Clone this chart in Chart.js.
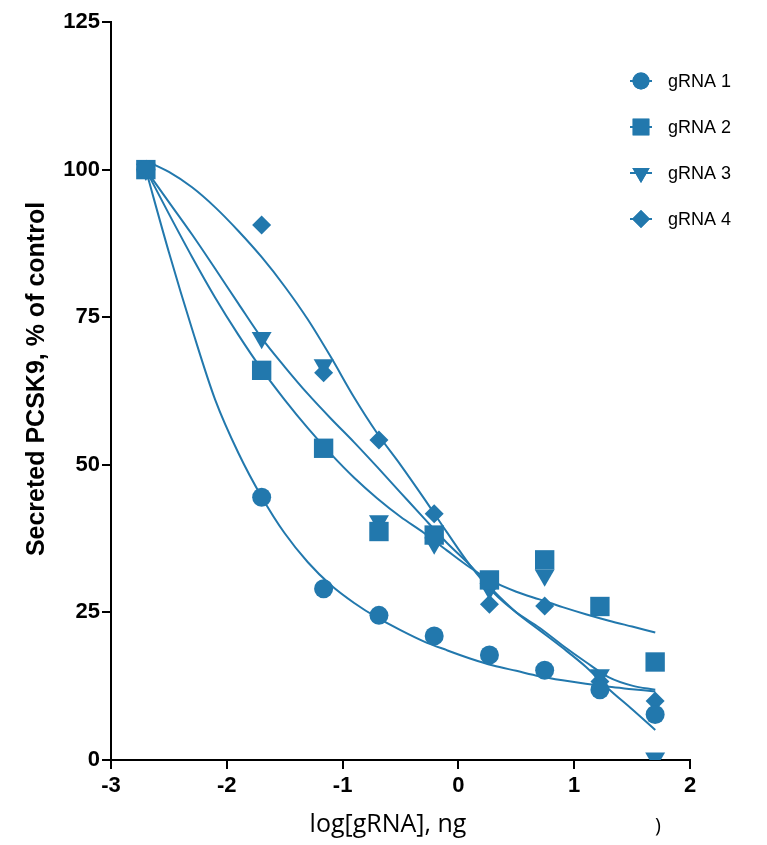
<!DOCTYPE html>
<html>
<head>
<meta charset="utf-8">
<script src="https://cdn.jsdelivr.net/npm/chart.js@4.4.1/dist/chart.umd.min.js"></script>
<style>
  html, body { margin:0; padding:0; background:#fff; }
  #wrap { width:767px; height:845px; }
</style>
</head>
<body>
<div id="wrap"><canvas id="grafico" width="767" height="845"></canvas></div>
<script>
// dose points: log10 of the gRNA amount (ng)
const logDosis = [-2.699, -1.699, -1.164, -0.686, -0.209, 0.268, 0.745, 1.222, 1.699];
// measured values, % of control
const gRNA1 = [100, 44.5, 29.0, 24.5, 21.0, 17.8, 15.2, 11.9, 7.7];
const gRNA2 = [100, 66.0, 52.8, 38.7, 38.1, 30.5, 33.9, 26.0, 16.6];
const gRNA3 = [100, 71.5, 66.9, 40.5, 36.7, 29.0, 31.3, 14.4, 0.3];
const gRNA4 = [100, 90.6, 65.6, 54.2, 41.7, 26.4, 26.1, 13.3, 10.0];

// fitted curves
const xCurva = [-2.7,-2.5,-2.3,-2.1,-1.9,-1.7,-1.5,-1.3,-1.1,-0.9,-0.7,-0.5,-0.3,-0.1,0.1,0.3,0.5,0.7,0.9,1.1,1.3,1.5,1.7];
const fit1 = [100,86,73,61,52,44.6,38.4,33.5,29.6,26.6,24.1,22.0,20.1,18.6,17.2,16.0,15.1,14.2,13.5,12.9,12.4,12.0,11.6];
const fit2 = [100,92.5,85.2,78.3,72.0,66.2,61.0,56.2,51.8,47.8,44.3,41.2,38.5,35.5,32.6,30.2,28.5,27.2,25.9,24.7,23.6,22.6,21.6];
const fit3 = [100,94.5,89.0,83.2,77.3,71.5,66.6,62.0,57.8,53.8,49.6,45.3,41.0,36.8,33.0,28.7,25.0,22.0,19.0,15.8,12.0,8.6,5.1];
const fit4 = [101.5,99.6,97.0,93.6,89.6,85.2,80.2,74.6,68.2,61.4,55.3,50.0,44.4,38.6,33.0,28.4,25.0,22.4,19.4,16.6,14.0,12.6,11.9];

const etiquetas = ['gRNA 1', 'gRNA 2', 'gRNA 3', 'gRNA 4'];
const xTicks = [-3, -2, -1, 0, 1, 2];
const yTicks = [0, 25, 50, 75, 100, 125];

const azul = '#2278AD';
const fuenteEje = "'Liberation Sans', Arial, sans-serif";

function puntos(xs, ys){ return xs.map((x,i)=>({x:x, y:ys[i]})); }

const marcas = [
  {pointStyle:'circle',   pointRadius:9.5, rotation:0},
  {pointStyle:'rect',     pointRadius:13.7, rotation:0},
  {pointStyle:'triangle', pointRadius:11.5, rotation:180},
  {pointStyle:'rectRot',  pointRadius:9.5, rotation:0}
];
const marcasLeyenda = [
  {pointStyle:'circle',   radius:8.5, rotation:0},
  {pointStyle:'rect',     radius:11.8, rotation:0},
  {pointStyle:'triangle', radius:10, rotation:180},
  {pointStyle:'rectRot',  radius:9, rotation:0}
];

const series = [gRNA1, gRNA2, gRNA3, gRNA4];
const curvas = [fit1, fit2, fit3, fit4];
let datasets = [];
series.forEach(function(s, i){
  datasets.push({
    label: etiquetas[i],
    data: puntos(logDosis, s),
    showLine: false,
    pointStyle: marcas[i].pointStyle,
    pointRadius: marcas[i].pointRadius,
    pointRotation: marcas[i].rotation,
    pointBackgroundColor: azul,
    pointBorderColor: azul,
    pointBorderWidth: 0,
    order: 1
  });
});
curvas.forEach(function(c, i){
  datasets.push({
    label: 'fit ' + etiquetas[i],
    data: puntos(xCurva, c),
    showLine: true,
    borderColor: azul,
    borderWidth: 2,
    pointRadius: 0,
    tension: 0.4,
    cubicInterpolationMode: 'monotone',
    order: 2
  });
});

//=========================titulos y leyenda============================
const pluginTextos = {
  id: 'textos',
  afterDraw(chart){
    const ctx = chart.ctx;
    ctx.save();
    // y title
    ctx.fillStyle = '#000';
    ctx.font = "bold 25px " + fuenteEje;
    ctx.textAlign = 'center';
    ctx.textBaseline = 'middle';
    ctx.translate(37, 379);
    ctx.rotate(-Math.PI/2);
    ctx.fillText('Secreted PCSK9, % of control', 0, 0);
    ctx.restore();

    ctx.save();
    ctx.fillStyle = '#000';
    ctx.font = "25px 'Open Sans', sans-serif";
    ctx.textAlign = 'center';
    ctx.textBaseline = 'middle';
    ctx.fillText('log[gRNA], ng', 388, 825);
    ctx.font = "20px 'Open Sans', sans-serif";
    ctx.fillText(')', 658, 826);

    // legend
    ctx.font = "18px " + fuenteEje;
    ctx.textAlign = 'left';
    for(let i=0;i<4;i++){
      const y = 81 + i*46;
      ctx.strokeStyle = azul;
      ctx.lineWidth = 2;
      ctx.beginPath(); ctx.moveTo(630, y); ctx.lineTo(652, y); ctx.stroke();
      ctx.fillStyle = azul;
      Chart.helpers.drawPoint(ctx, {
        pointStyle: marcasLeyenda[i].pointStyle,
        radius: marcasLeyenda[i].radius,
        rotation: marcasLeyenda[i].rotation,
        borderWidth: 0
      }, 641, y);
      ctx.fill();
      ctx.fillStyle = '#000';
      ctx.fillText(etiquetas[i], 668, y + 1);
    }
    ctx.restore();
  }
};

const ctxGraf = document.getElementById('grafico').getContext('2d');
new Chart(ctxGraf, {
  type: 'scatter',
  data: { datasets: datasets },
  options: {
    responsive: false,
    animation: false,
    layout: { padding: { top: 22, right: 77, left: 0, bottom: 0 } },
    plugins: { legend: { display: false }, tooltip: { enabled: false } },
    scales: {
      x: {
        type: 'linear', min: -3, max: 2,
        afterFit: function(scale){ scale.height = 85; },
        afterBuildTicks: function(scale){ scale.ticks = xTicks.map(v=>({value:v})); },
        ticks: { color:'#000', padding: 4, font: { family: fuenteEje, size: 22, weight: 'bold' } },
        grid: { drawOnChartArea: false, drawTicks: true, tickLength: 9, color: '#000', lineWidth: 2 },
        border: { color: '#000', width: 2 }
      },
      y: {
        type: 'linear', min: 0, max: 125,
        afterFit: function(scale){ scale.width = 111; },
        afterBuildTicks: function(scale){ scale.ticks = yTicks.map(v=>({value:v})); },
        ticks: { color:'#000', padding: 2, font: { family: fuenteEje, size: 22, weight: 'bold' } },
        grid: { drawOnChartArea: false, drawTicks: true, tickLength: 9, color: '#000', lineWidth: 2 },
        border: { color: '#000', width: 2 }
      }
    }
  },
  plugins: [pluginTextos]
});
</script>
</body>
</html>
